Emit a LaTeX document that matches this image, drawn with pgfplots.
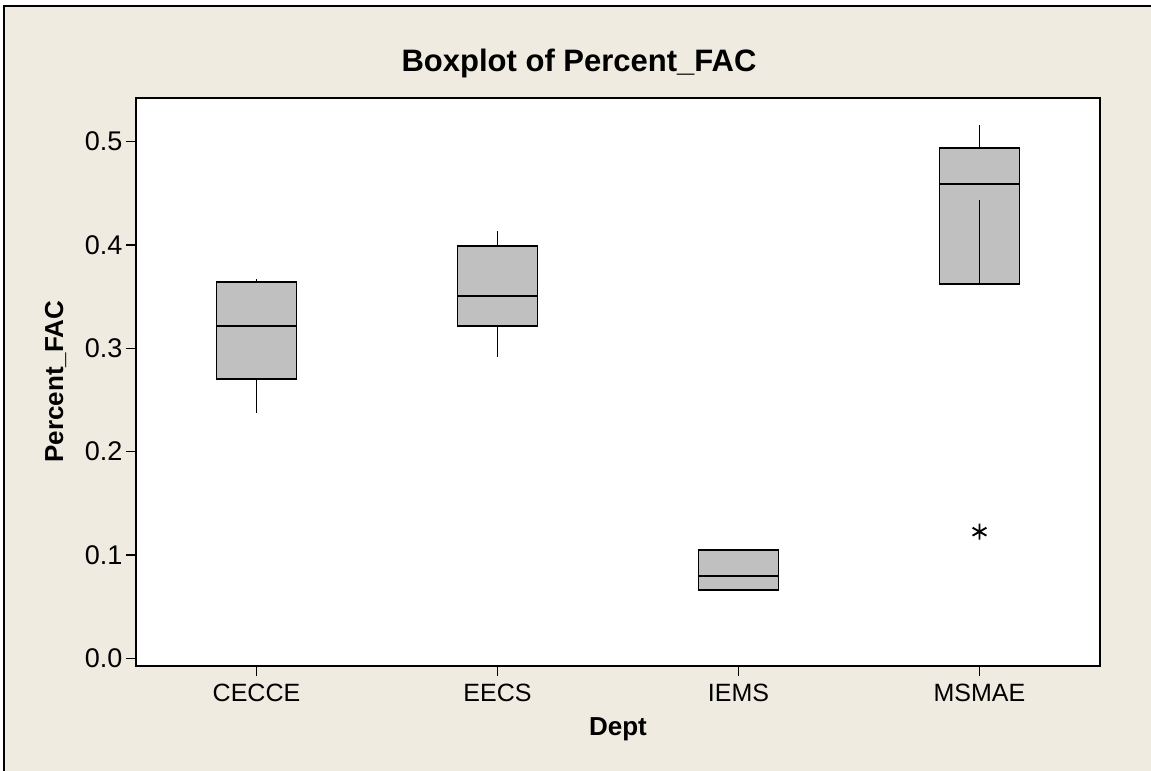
\documentclass[border=0pt]{standalone}
\usepackage{pgfplots}
\pgfplotsset{compat=1.18}
\usepackage{fontspec}
\setmainfont{Liberation Sans}
\definecolor{bgbeige}{RGB}{239,235,224}
\definecolor{boxgray}{RGB}{192,192,192}
\begin{document}
\begin{tikzpicture}
\path[use as bounding box] (0,0) rectangle (1151bp,771bp);
\fill[white] (0,0) rectangle (1151bp,771bp);
\fill[bgbeige] (4bp,0) rectangle (1151bp,765bp);
\fill[white] (136bp,105bp) rectangle (1100bp,673bp);
\draw[black, line width=1.5bp] (4bp,0) -- (4bp,765bp) -- (1151bp,765bp);
\node[anchor=base, font=\fontsize{31bp}{36bp}\selectfont\bfseries] at (579bp,699bp) {Boxplot of Percent\_FAC};
\node[anchor=base, font=\fontsize{26bp}{30bp}\selectfont\bfseries] at (618bp,36bp) {Dept};
\node[anchor=base, rotate=90, font=\fontsize{26bp}{30bp}\selectfont\bfseries] at (63bp,389.5bp) {Percent\_FAC};
\begin{axis}[
  at={(136bp,105bp)}, anchor=south west,
  scale only axis, width=964bp, height=568bp,
  xmin=0.5, xmax=4.5, ymin=-0.0074, ymax=0.5423,
  axis line style={black, line width=1.6bp},
  xtick={1,2,3,4}, xticklabels={CECCE,EECS,IEMS,MSMAE},
  ytick={0,0.1,0.2,0.3,0.4,0.5},
  yticklabel style={/pgf/number format/fixed, /pgf/number format/fixed zerofill, /pgf/number format/precision=1, font=\fontsize{27bp}{30bp}\selectfont},
  tick align=outside, major tick length=10bp,
  tick style={black, line width=1.5bp},
  xtick pos=bottom, ytick pos=left,
  xticklabel style={font=\fontsize{25bp}{28bp}\selectfont, yshift=-5bp},
  /pgf/number format/assume math mode=true,
  ln/.style={black, solid, no markers, line width=1.9bp},
  bx/.style={draw=black, fill=boxgray, solid, no markers, line width=1.9bp},
]
% CECCE
\addplot[bx] coordinates {(0.834,0.270) (1.166,0.270) (1.166,0.364) (0.834,0.364)} -- cycle;
\addplot[ln] coordinates {(0.834,0.3216) (1.166,0.3216)};
\addplot[ln] coordinates {(1,0.364) (1,0.3668)};
\addplot[ln] coordinates {(1,0.270) (1,0.2377)};
% EECS
\addplot[bx] coordinates {(1.834,0.3216) (2.166,0.3216) (2.166,0.3993) (1.834,0.3993)} -- cycle;
\addplot[ln] coordinates {(1.834,0.3507) (2.166,0.3507)};
\addplot[ln] coordinates {(2,0.3993) (2,0.4133)};
\addplot[ln] coordinates {(2,0.3216) (2,0.2919)};
% IEMS
\addplot[bx] coordinates {(2.834,0.0661) (3.166,0.0661) (3.166,0.1048) (2.834,0.1048)} -- cycle;
\addplot[ln] coordinates {(2.834,0.0797) (3.166,0.0797)};
% MSMAE
\addplot[bx] coordinates {(3.834,0.362) (4.166,0.362) (4.166,0.4942) (3.834,0.4942)} -- cycle;
\addplot[ln] coordinates {(3.834,0.459) (4.166,0.459)};
\addplot[ln] coordinates {(4,0.4942) (4,0.5162)};
\addplot[ln] coordinates {(4,0.362) (4,0.444)};
% outlier
\addplot[only marks, mark=asterisk, mark size=8bp, mark options={draw=black, solid, line width=1.9bp}] coordinates {(4,0.1226)};
\end{axis}
\end{tikzpicture}
\end{document}
